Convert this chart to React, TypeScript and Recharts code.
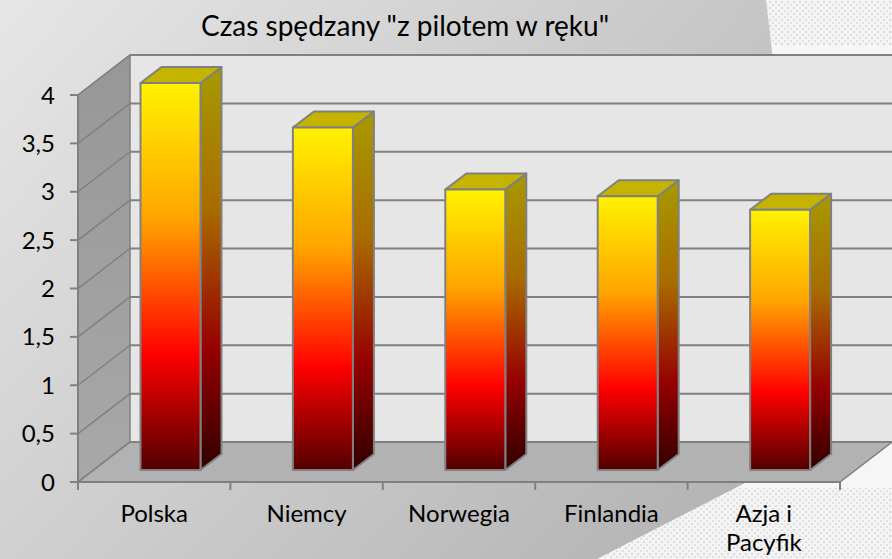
import React from 'react';
import { BarChart, Bar, XAxis, YAxis, usePlotArea } from 'recharts';

const categories = ['Polska', 'Niemcy', 'Norwegia', 'Finlandia', 'Azja i Pacyfik'];
const values = [4.0, 3.54, 2.9, 2.83, 2.69];
const yTicks = [0, 0.5, 1, 1.5, 2, 2.5, 3, 3.5, 4];
const title = 'Czas spędzany "z pilotem w ręku"';

const data = categories.map((name, i) => ({ name, value: values[i] }));

const FONT = 'Lato, sans-serif';
const EDGE = '#808080';
// room depth of the fake 3D box
const DEPTH_X = 52;
const DEPTH_Y = 40;

const Room = () => {
  const plot = usePlotArea();
  if (!plot) return null;
  const left = plot.x;
  const right = plot.x + plot.width;
  const top = plot.y;
  const bottom = plot.y + plot.height;
  const band = plot.width / categories.length;
  const yOf = (v: number) => bottom - (v / 4) * plot.height;
  return (
    <g>
      <rect x={left + DEPTH_X} y={top - DEPTH_Y} width={plot.width} height={plot.height} fill="#e6e6e6" stroke="none" />
      <polygon
        points={`${left},${top} ${left + DEPTH_X},${top - DEPTH_Y} ${left + DEPTH_X},${bottom - DEPTH_Y} ${left},${bottom}`}
        fill="url(#sideWall)"
        stroke={EDGE}
        strokeWidth={1.5}
      />
      <polygon
        points={`${left},${bottom} ${right},${bottom} ${right + DEPTH_X},${bottom - DEPTH_Y} ${left + DEPTH_X},${bottom - DEPTH_Y}`}
        fill="#b2b2b2"
        stroke={EDGE}
        strokeWidth={1.5}
      />
      {yTicks.map((t) => (
        <g key={t}>
          <line x1={left} y1={yOf(t)} x2={left + DEPTH_X} y2={yOf(t) - DEPTH_Y} stroke={EDGE} strokeWidth={1.5} />
          <line x1={left + DEPTH_X} y1={yOf(t) - DEPTH_Y} x2={right + DEPTH_X} y2={yOf(t) - DEPTH_Y} stroke={EDGE} strokeWidth={2} />
        </g>
      ))}
      {/* x ticks sit between the categories, the axis can't do that by itself */}
      {[0, 1, 2, 3, 4, 5].map((i) => (
        <line key={i} x1={left + band * i} y1={bottom} x2={left + band * i} y2={bottom + 8} stroke={EDGE} strokeWidth={2} />
      ))}
    </g>
  );
};

// 3D box for one bar: front, right side and top faces
const Bar3D = (props: any) => {
  const { x, y, width, height } = props;
  const fx = x + 16.5;
  const fy = y - 12;
  const sx = 21;
  const sy = 16;
  const r = fx + width;
  const b = fy + height;
  return (
    <g stroke={EDGE} strokeWidth={2} strokeLinejoin="round">
      <polygon points={`${r},${fy} ${r + sx},${fy - sy} ${r + sx},${b - sy} ${r},${b}`} fill="url(#barSide)" />
      <polygon points={`${fx},${fy} ${fx + sx},${fy - sy} ${r + sx},${fy - sy} ${r},${fy}`} fill="#c4b400" />
      <rect x={fx} y={fy} width={width} height={height} fill="url(#barFront)" />
    </g>
  );
};

const CategoryTick = (props: any) => {
  const { x, y, payload } = props;
  const words: string[] = payload.value.split(' ');
  const lines = words.length > 1 ? [words.slice(0, -1).join(' '), words[words.length - 1]] : words;
  return (
    <text x={x} y={y + 32} textAnchor="middle" fontFamily={FONT} fontSize={24} fill="#000">
      {lines.map((l, i) => (
        <tspan key={l} x={x} dy={i === 0 ? 0 : 29}>
          {l}
        </tspan>
      ))}
    </text>
  );
};

const Backdrop = () => (
  <svg width={892} height={559} style={{ position: 'absolute', left: 0, top: 0 }}>
    <defs>
      <linearGradient id="pageBg" gradientUnits="userSpaceOnUse" x1="0" y1="0" x2="768" y2="720">
        <stop offset="0" stopColor="#e6e6e6" />
        <stop offset="1" stopColor="#aaaaaa" />
      </linearGradient>
      <pattern id="dots" width="6" height="6" patternUnits="userSpaceOnUse">
        <rect width="6" height="6" fill="#f4f4f4" />
        <rect x="1" y="1" width="2" height="2" fill="#dadada" />
        <rect x="4" y="4" width="2" height="2" fill="#e0e0e0" />
      </pattern>
    </defs>
    <rect width={892} height={559} fill="#f6f6f6" />
    <rect x={767} y={0} width={125} height={45} fill="url(#dots)" />
    <rect x={590} y={488} width={302} height={71} fill="url(#dots)" />
    <polygon points="0,0 766,0 773,60 773,400 745,483 597,559 0,559" fill="url(#pageBg)" />
    <text x={405} y={36} textAnchor="middle" fontFamily={FONT} fontSize={28} fill="#000">
      {title}
    </text>
  </svg>
);

export default function App() {
  return (
    <div style={{ position: 'absolute', left: 0, top: 0, width: 892, height: 559, overflow: 'hidden' }}>
      <Backdrop />
      <div style={{ position: 'absolute', left: 0, top: 0 }}>
        <BarChart
          width={892}
          height={559}
          data={data}
          margin={{ top: 95, right: 52, bottom: 0, left: 0 }}
          barSize={60}
        >
          <defs>
            <linearGradient id="barFront" x1="0" y1="0" x2="0" y2="1">
              <stop offset="0" stopColor="#fff200" />
              <stop offset="0.35" stopColor="#ffa500" />
              <stop offset="0.7" stopColor="#ff0000" />
              <stop offset="1" stopColor="#520000" />
            </linearGradient>
            <linearGradient id="barSide" x1="0" y1="0" x2="0" y2="1">
              <stop offset="0" stopColor="#a89a00" />
              <stop offset="0.35" stopColor="#a86c00" />
              <stop offset="0.7" stopColor="#960000" />
              <stop offset="1" stopColor="#300000" />
            </linearGradient>
            <linearGradient id="sideWall" x1="0" y1="0" x2="0" y2="1">
              <stop offset="0" stopColor="#979797" />
              <stop offset="1" stopColor="#a8a8a8" />
            </linearGradient>
          </defs>
          <Room />
          <XAxis
            dataKey="name"
            interval={0}
            height={77}
            tick={<CategoryTick />}
            tickLine={false}
            axisLine={{ stroke: EDGE, strokeWidth: 2 }}
          />
          <YAxis
            width={78}
            domain={[0, 4]}
            ticks={yTicks}
            interval={0}
            tickFormatter={(v: number) => String(v).replace('.', ',')}
            tick={{ fontFamily: FONT, fontSize: 24, fill: '#000' }}
            tickSize={8}
            tickMargin={15}
            axisLine={{ stroke: EDGE, strokeWidth: 2 }}
            tickLine={{ stroke: EDGE, strokeWidth: 2 }}
          />
          <Bar dataKey="value" shape={<Bar3D />} isAnimationActive={false} />
        </BarChart>
      </div>
    </div>
  );
}
